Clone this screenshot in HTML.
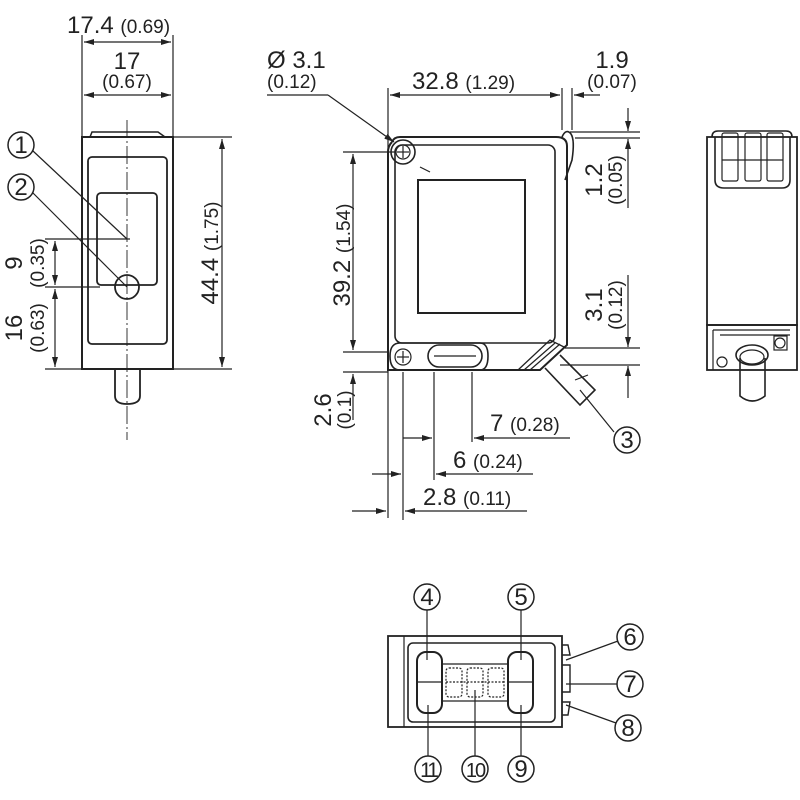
<!DOCTYPE html>
<html><head><meta charset="utf-8"><style>
html,body{margin:0;padding:0;background:#fff}
svg{display:block}
text{font-family:"Liberation Sans",sans-serif;fill:#222}
.n{font-size:24px}.p{font-size:19px}
.c{font-size:24px}
</style></head><body>
<svg width="800" height="800" viewBox="0 0 800 800" xmlns="http://www.w3.org/2000/svg">
<defs>
<marker id="a" viewBox="0 0 10 6" refX="10" refY="3" markerWidth="10" markerHeight="6" orient="auto-start-reverse" markerUnits="userSpaceOnUse"><path d="M0,0 L10,3 L0,6 z" fill="#222"/></marker>
</defs>
<g stroke="#222" fill="none" stroke-width="1.2">
<!-- LEFT VIEW -->
<line x1="82" y1="35" x2="82" y2="137"/><line x1="173" y1="35" x2="173" y2="137"/>
<line x1="84" y1="42" x2="171" y2="42" marker-start="url(#a)" marker-end="url(#a)"/>
<line x1="84" y1="95" x2="171" y2="95" marker-start="url(#a)" marker-end="url(#a)"/>
<rect x="82" y="137" width="91" height="232" stroke-width="2"/>
<path d="M90,137 L92,132 L158,132 L165,137" stroke-width="1.5"/>
<rect x="88" y="157" width="79" height="187" rx="4" stroke-width="1.8"/>
<rect x="97" y="193" width="60" height="92" rx="4" stroke-width="1.8"/>
<circle cx="127" cy="287" r="12" stroke-width="1.8"/>
<line x1="127" y1="120" x2="127" y2="440" stroke-dasharray="18,3,2,3" stroke-width="0.9"/>
<path d="M115,370 L115,396 Q115,404 127,404 Q140,404 140,396 L140,370" stroke-width="1.8"/>
<line x1="173" y1="137" x2="232" y2="137"/><line x1="173" y1="369" x2="232" y2="369"/>
<line x1="222" y1="139" x2="222" y2="367" marker-start="url(#a)" marker-end="url(#a)"/>
<line x1="45" y1="239" x2="130" y2="239"/><line x1="45" y1="287" x2="100" y2="287"/><line x1="45" y1="369" x2="82" y2="369"/>
<line x1="55" y1="241" x2="55" y2="285" marker-start="url(#a)" marker-end="url(#a)"/>
<line x1="55" y1="289" x2="55" y2="367" marker-start="url(#a)" marker-end="url(#a)"/>
<circle cx="21" cy="145" r="13" stroke-width="1.5"/><circle cx="21" cy="187" r="13" stroke-width="1.5"/>
<line x1="33" y1="151" x2="127" y2="239"/><line x1="33" y1="193" x2="127" y2="287"/>

<!-- MIDDLE VIEW -->
<line x1="388" y1="88" x2="388" y2="518"/>
<line x1="562" y1="88" x2="562" y2="130"/><line x1="572" y1="88" x2="572" y2="130"/>
<line x1="390" y1="95" x2="560" y2="95" marker-start="url(#a)" marker-end="url(#a)"/>
<line x1="600" y1="95" x2="574" y2="95" marker-end="url(#a)"/>
<line x1="267" y1="95" x2="328" y2="95"/><line x1="328" y1="95" x2="394" y2="142" marker-end="url(#a)"/>
<path d="M392,142 Q388,146 388,152 L388,370 L540,370 L567,345 L567,146 Q567,137 556,137 L400,137 Q394,137 392,142" stroke-width="2"/>
<rect x="395" y="145" width="160" height="198" rx="7" stroke-width="1.6"/>
<rect x="418" y="180" width="107" height="133" stroke-width="2"/>
<circle cx="403" cy="152" r="12" stroke-width="1.6"/><circle cx="403" cy="152" r="7"/>
<line x1="397" y1="152" x2="409" y2="152"/><line x1="403" y1="146" x2="403" y2="158"/>
<line x1="420" y1="167" x2="430" y2="172"/>
<path d="M400,343 L480,343 Q488,343 488,356 Q488,370 480,370 L400,370 Q390,370 390,356 Q390,343 400,343" stroke-width="1.6"/>
<circle cx="403" cy="357" r="8"/><line x1="397" y1="357" x2="409" y2="357"/><line x1="403" y1="351" x2="403" y2="363"/>
<rect x="428" y="345" width="54" height="22" rx="11" stroke-width="1.6"/>
<line x1="434" y1="356" x2="476" y2="356"/>
<path d="M562,137 Q566,128 571,134 Q575,140 572,160 L565,180" stroke-width="1.6"/>
<path d="M518,370 L550,340 L566,348" stroke-width="1.3"/><path d="M524,370 L555,343"/><path d="M530,370 L560,344"/>
<path d="M545,368 L580,405 L595,390 L560,355" stroke-width="1.6"/>
<line x1="575" y1="380" x2="588" y2="375"/>
<line x1="580" y1="390" x2="614" y2="432"/>
<circle cx="627" cy="440" r="13" stroke-width="1.5"/>
<line x1="343" y1="152" x2="395" y2="152"/><line x1="343" y1="352" x2="388" y2="352"/><line x1="343" y1="372" x2="388" y2="372"/>
<line x1="353" y1="154" x2="353" y2="350" marker-start="url(#a)" marker-end="url(#a)"/>
<line x1="353" y1="420" x2="353" y2="374" marker-end="url(#a)"/>
<line x1="570" y1="132" x2="640" y2="132"/><line x1="575" y1="138" x2="640" y2="138"/>
<line x1="628" y1="108" x2="628" y2="131" marker-end="url(#a)"/>
<line x1="628" y1="208" x2="628" y2="139" marker-end="url(#a)"/>
<line x1="565" y1="348" x2="640" y2="348"/><line x1="560" y1="365" x2="640" y2="365"/>
<line x1="628" y1="275" x2="628" y2="347" marker-end="url(#a)"/>
<line x1="628" y1="398" x2="628" y2="366" marker-end="url(#a)"/>
<line x1="403" y1="372" x2="403" y2="520"/><line x1="434" y1="372" x2="434" y2="480"/><line x1="472" y1="372" x2="472" y2="442"/>
<line x1="403" y1="438" x2="432" y2="438" marker-end="url(#a)"/>
<line x1="570" y1="438" x2="474" y2="438" marker-end="url(#a)"/>
<line x1="372" y1="474" x2="401" y2="474" marker-end="url(#a)"/>
<line x1="533" y1="474" x2="436" y2="474" marker-end="url(#a)"/>
<line x1="352" y1="511" x2="386" y2="511" marker-end="url(#a)"/>
<line x1="527" y1="511" x2="405" y2="511" marker-end="url(#a)"/>

<!-- RIGHT VIEW -->
<rect x="707" y="137" width="90" height="188" stroke-width="1.8"/>
<path d="M715,137 L715,180 Q715,188 724,188 L782,188 Q790,188 790,180 L790,137" stroke-width="1.6"/>
<path d="M712,137 Q712,131 718,131 L786,131 Q792,131 792,137" stroke-width="1.6"/>
<rect x="722" y="133" width="16" height="48" rx="2"/><rect x="745" y="133" width="16" height="48" rx="2"/><rect x="767" y="133" width="16" height="48" rx="2"/>
<line x1="722" y1="160" x2="783" y2="160"/>
<rect x="707" y="325" width="90" height="45" stroke-width="1.8"/>
<path d="M713,330 L790,330 M713,330 L713,370 M720,335 L790,335"/>
<circle cx="722" cy="362" r="5"/><circle cx="780" cy="343" r="5"/>
<rect x="774" y="336" width="13" height="14"/>
<ellipse cx="752" cy="355" rx="16" ry="10" stroke-width="1.6"/>
<path d="M740,358 L740,396 Q752,406 765,396 L765,358" stroke-width="1.6"/>
<ellipse cx="752" cy="357" rx="12" ry="7"/>

<!-- BOTTOM VIEW -->
<rect x="388" y="636" width="174" height="91" stroke-width="1.8"/>
<rect x="408" y="643" width="147" height="79" rx="5" stroke-width="1.6"/>
<line x1="404" y1="636" x2="404" y2="727"/>
<rect x="417" y="652" width="25" height="61" rx="9" stroke-width="2"/>
<rect x="508" y="652" width="25" height="61" rx="9" stroke-width="2"/>
<line x1="417" y1="682" x2="442" y2="682"/><line x1="508" y1="682" x2="533" y2="682"/>
<line x1="442" y1="664" x2="508" y2="664"/><line x1="442" y1="701" x2="508" y2="701"/>
<g stroke-dasharray="2,1.5" stroke-width="1.2">
<rect x="446" y="668" width="16" height="29" rx="3"/><rect x="467" y="668" width="16" height="29" rx="3"/><rect x="488" y="668" width="16" height="29" rx="3"/>
<line x1="446" y1="682" x2="504" y2="682"/>
</g>
<path d="M562,645 L568,645 L570,655 L562,655 M562,665 L570,665 L570,692 L562,692 M562,702 L570,702 L568,715 L562,715" stroke-width="1.4"/>
<line x1="427" y1="610" x2="427" y2="660"/><line x1="521" y1="610" x2="521" y2="660"/>
<line x1="428" y1="705" x2="428" y2="756"/><line x1="475" y1="690" x2="475" y2="756"/><line x1="521" y1="705" x2="521" y2="756"/>
<line x1="566" y1="660" x2="618" y2="641"/><line x1="566" y1="684" x2="617" y2="684"/><line x1="566" y1="705" x2="616" y2="723"/>
<g stroke-width="1.5">
<circle cx="427" cy="597" r="13"/><circle cx="521" cy="597" r="13"/>
<circle cx="630" cy="637" r="13"/><circle cx="630" cy="684" r="13"/><circle cx="628" cy="728" r="13"/>
<circle cx="428" cy="769" r="13"/><circle cx="475" cy="769" r="13"/><circle cx="521" cy="769" r="13"/>
</g>
</g>

<!-- TEXT -->
<text x="67" y="33" class="n">17.4 <tspan class="p">(0.69)</tspan></text>
<text x="127" y="69" class="n" text-anchor="middle">17</text>
<text x="127" y="88" class="p" text-anchor="middle">(0.67)</text>
<text x="218" y="253" class="n" text-anchor="middle" transform="rotate(-90 218 253)">44.4 <tspan class="p">(1.75)</tspan></text>
<text x="22" y="263" class="n" text-anchor="middle" transform="rotate(-90 22 263)">9</text>
<text x="44" y="263" class="p" text-anchor="middle" transform="rotate(-90 44 263)">(0.35)</text>
<text x="22" y="328" class="n" text-anchor="middle" transform="rotate(-90 22 328)">16</text>
<text x="44" y="328" class="p" text-anchor="middle" transform="rotate(-90 44 328)">(0.63)</text>
<text x="21" y="153" class="c" text-anchor="middle">1</text>
<text x="21" y="195" class="c" text-anchor="middle">2</text>

<text x="267" y="68" class="n">Ø 3.1</text>
<text x="267" y="88" class="p">(0.12)</text>
<text x="412" y="89" class="n">32.8 <tspan class="p">(1.29)</tspan></text>
<text x="612" y="68" class="n" text-anchor="middle">1.9</text>
<text x="612" y="88" class="p" text-anchor="middle">(0.07)</text>
<text x="350" y="255" class="n" text-anchor="middle" transform="rotate(-90 350 255)">39.2 <tspan class="p">(1.54)</tspan></text>
<text x="602" y="180" class="n" text-anchor="middle" transform="rotate(-90 602 180)">1.2</text>
<text x="622" y="180" class="p" text-anchor="middle" transform="rotate(-90 622 180)">(0.05)</text>
<text x="602" y="305" class="n" text-anchor="middle" transform="rotate(-90 602 305)">3.1</text>
<text x="622" y="305" class="p" text-anchor="middle" transform="rotate(-90 622 305)">(0.12)</text>
<text x="331" y="410" class="n" text-anchor="middle" transform="rotate(-90 331 410)">2.6</text>
<text x="351" y="410" class="p" text-anchor="middle" transform="rotate(-90 351 410)">(0.1)</text>
<text x="490" y="431" class="n">7 <tspan class="p">(0.28)</tspan></text>
<text x="453" y="468" class="n">6 <tspan class="p">(0.24)</tspan></text>
<text x="423" y="505" class="n">2.8 <tspan class="p">(0.11)</tspan></text>
<text x="627" y="448" class="c" text-anchor="middle">3</text>

<text x="427" y="605" class="c" text-anchor="middle">4</text>
<text x="521" y="605" class="c" text-anchor="middle">5</text>
<text x="630" y="645" class="c" text-anchor="middle">6</text>
<text x="630" y="692" class="c" text-anchor="middle">7</text>
<text x="628" y="736" class="c" text-anchor="middle">8</text>
<text x="428" y="777" class="c" text-anchor="middle" style="font-size:21px;letter-spacing:-3px">11</text>
<text x="475" y="777" class="c" text-anchor="middle" style="font-size:20px;letter-spacing:-2px">10</text>
<text x="521" y="777" class="c" text-anchor="middle">9</text>
</svg>
</body></html>
